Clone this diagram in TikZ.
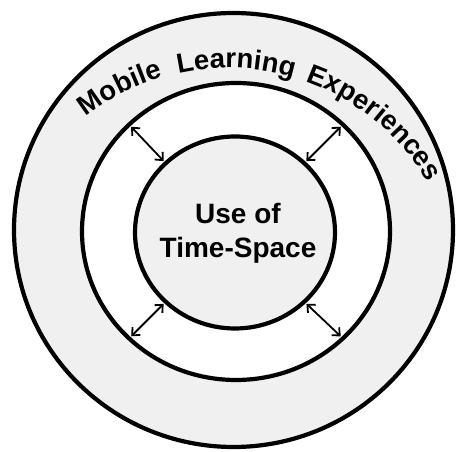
\documentclass[tikz,border=0pt]{standalone}
\usepackage{fontspec}
\setmainfont{Liberation Sans}
\usetikzlibrary{shapes.geometric,arrows.meta,decorations.text}
\definecolor{ringgray}{HTML}{F0F0F0}
\begin{document}
\begin{tikzpicture}[x=1pt,y=1pt,
  ring/.style={ellipse, draw=black, line width=4.2pt, inner sep=0pt, outer sep=0pt},
  link/.style={{Straight Barb[length=6pt,width=11pt,line width=1.8pt]}-{Straight Barb[length=6pt,width=11pt,line width=1.8pt]}, line width=1.8pt, shorten <=3pt, shorten >=3pt},
  arcword/.style={decorate, decoration={text along path, text align=center, text={|\bfseries\fontsize{27.5}{27.5}\selectfont|#1}}},
  centertext/.style={font=\bfseries\fontsize{28}{34}\selectfont, align=center, inner sep=0pt}]
\useasboundingbox (0,0) rectangle (456,452);
\fill[white] (0,0) rectangle (456,452);
\node[ring, fill=ringgray, minimum width=439pt, minimum height=434pt] (outer) at (233.5,222) {};
\node[ring, fill=white, minimum width=308pt, minimum height=297pt] (middle) at (236,220.5) {};
\node[ring, fill=ringgray, minimum width=200pt, minimum height=192pt] (inner) at (235,219.5) {};
\node[centertext] (label) at (238,219) {Use of\\Time-Space};
\draw[link] (middle.135) -- (inner.135);
\draw[link] (middle.45) -- (inner.45);
\draw[link] (middle.225) -- (inner.225);
\draw[link] (middle.315) -- (inner.315);
\coordinate (arccenter) at (228,152);
\path[arcword=Mobile] (arccenter) ++(142:232) arc[start angle=142, end angle=92, radius=232];
\path[arcword=Learning] (arccenter) ++(113:232) arc[start angle=113, end angle=63, radius=232];
\path[arcword=Experiences] (arccenter) ++(75.5:232) arc[start angle=75.5, end angle=25.5, radius=232];
\end{tikzpicture}
\end{document}
